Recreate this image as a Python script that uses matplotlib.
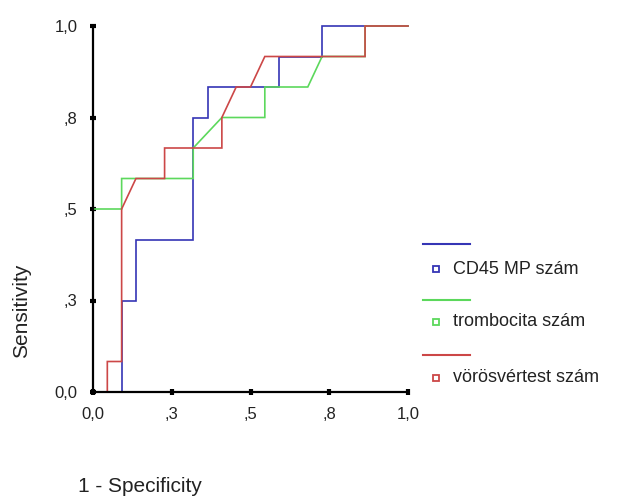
import matplotlib
matplotlib.use("Agg")
import matplotlib.pyplot as plt
from matplotlib.lines import Line2D

plt.rcParams["font.family"] = ["Liberation Sans", "DejaVu Sans"]

W, H = 617, 499

# ROC points (1 - specificity, sensitivity), 22 negatives / 12 positives
cd45_fpr = [0, 2/22, 2/22, 3/22, 3/22, 7/22, 7/22, 8/22, 8/22, 13/22, 13/22, 16/22, 16/22, 1]
cd45_tpr = [0, 0, 3/12, 3/12, 5/12, 5/12, 9/12, 9/12, 10/12, 10/12, 11/12, 11/12, 1, 1]

tromb_fpr = [0, 0, 2/22, 2/22, 7/22, 7/22, 9/22, 12/22, 12/22, 15/22, 16/22, 19/22, 19/22, 1]
tromb_tpr = [0, 6/12, 6/12, 7/12, 7/12, 8/12, 9/12, 9/12, 10/12, 10/12, 11/12, 11/12, 1, 1]

vvt_fpr = [0, 1/22, 1/22, 2/22, 2/22, 3/22, 5/22, 5/22, 9/22, 9/22, 10/22, 11/22, 12/22, 19/22, 19/22, 1]
vvt_tpr = [0, 0, 1/12, 1/12, 6/12, 7/12, 7/12, 8/12, 8/12, 9/12, 10/12, 10/12, 11/12, 11/12, 1, 1]

labels = ["CD45 MP szám", "trombocita szám", "vörösvértest szám"]
colors = ["#3535b5", "#5cd85c", "#cc4747"]

ticks = [0, 0.25, 0.5, 0.75, 1.0]
tick_labels = ["0,0", ",3", ",5", ",8", "1,0"]


def fig_xy(x, y):
    return x / W, 1 - y / H


fig = plt.figure(figsize=(W / 100, H / 100), dpi=100)
ax = fig.add_axes([93 / W, 1 - 392 / H, 315 / W, 366 / H])

curves = [(cd45_fpr, cd45_tpr), (tromb_fpr, tromb_tpr), (vvt_fpr, vvt_tpr)]
for (fx, ty), c in zip(curves, colors):
    ax.plot(fx, ty, color=c, lw=1.2, solid_joinstyle="miter", clip_on=False)

ax.set_xlim(0, 1)
ax.set_ylim(0, 1)
for side in ["top", "right"]:
    ax.spines[side].set_visible(False)
for side in ["left", "bottom"]:
    ax.spines[side].set_linewidth(1.6)
ax.set_xticks(ticks)
ax.set_xticklabels(tick_labels)
ax.set_yticks(ticks)
ax.set_yticklabels(tick_labels)
ax.tick_params(direction="inout", length=4, width=3, labelsize=12, pad=9,
               colors="black", labelcolor="#222222")

fig.text(*fig_xy(22, 311), "Sensitivity", rotation=90, ha="center",
         va="center", fontsize=15, color="#222222")
fig.text(*fig_xy(78, 487), "1 - Specificity", ha="left", va="center",
         fontsize=15, color="#222222")

# legend: a line sample above each marker/label row
line_y = [244, 300, 355]
mark_y = [269, 322, 378]
for lab, c, ly, my in zip(labels, colors, line_y, mark_y):
    x0, y0 = fig_xy(423, ly)
    x1, _ = fig_xy(470, ly)
    fig.add_artist(Line2D([x0, x1], [y0, y0], color=c, lw=1.5,
                          transform=fig.transFigure))
    mx, myf = fig_xy(436, my)
    fig.add_artist(Line2D([mx], [myf], marker="s", markersize=5,
                          markerfacecolor="white", markeredgecolor=c,
                          markeredgewidth=1.3, transform=fig.transFigure))
    tx, ty = fig_xy(453, my)
    fig.text(tx, ty, lab, ha="left", va="center", fontsize=13, color="#222222")

fig.savefig("out.png", dpi=100)
